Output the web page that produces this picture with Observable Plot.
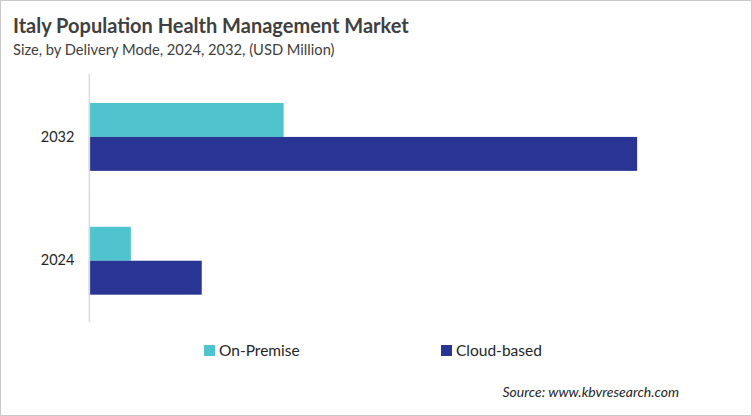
<!DOCTYPE html>
<html>
<head>
<meta charset="utf-8">
<script src="https://cdn.jsdelivr.net/npm/d3@7"></script>
<script src="https://cdn.jsdelivr.net/npm/@observablehq/plot@0.6"></script>
<style>
  html, body { margin: 0; padding: 0; background: #fff; }
  #wrap { position: relative; width: 750px; height: 414px; border: 1px solid #c8c8c8; font-family: Lato, "Open Sans", sans-serif; color: #404040; overflow: hidden; }
  #title { position: absolute; left: 12px; top: 12px; font-size: 20px; font-weight: 700; color: #404040; white-space: nowrap; }
  #subtitle { position: absolute; left: 12px; top: 39px; font-size: 14.7px; color: #404040; white-space: nowrap; }
  #chart { position: absolute; left: -1px; top: 69px; }
  .leg { position: absolute; top: 340px; font-size: 15.5px; color: #262626; white-space: nowrap; display: flex; align-items: center; }
  .sw { width: 11px; height: 11px; display: inline-block; margin-right: 4px; }
  #source { position: absolute; right: 72px; top: 382px; font-size: 14px; font-style: italic; color: #262626; white-space: nowrap; }
</style>
</head>
<body>
<div id="wrap">
  <div id="title">Italy Population Health Management Market</div>
  <div id="subtitle">Size, by Delivery Mode, 2024, 2032, (USD Million)</div>
  <div id="chart"></div>
  <div id="legend"></div>
  <div id="source">Source: www.kbvresearch.com</div>
</div>
<script>
const years = ["2032", "2024"];
const modes = ["On-Premise", "Cloud-based"];
const colors = ["#4FC3CE", "#283593"];
const onPremise = [78.0, 16.8];   // 2032, 2024
const cloudBased = [219.6, 45.2]; // 2032, 2024

const data = [];
years.forEach((yr, i) => {
  data.push({year: yr, mode: modes[0], value: onPremise[i]});
  data.push({year: yr, mode: modes[1], value: cloudBased[i]});
});

const chart = Plot.plot({
  width: 752,
  height: 252,
  marginLeft: 89,
  marginRight: 114,
  marginTop: 6,
  marginBottom: 0,
  x: {domain: [0, d3.max(cloudBased)], axis: null},
  y: {domain: modes, padding: 0, axis: null},
  fy: {domain: years, paddingInner: 0.44, paddingOuter: 0.208, label: null, axis: null},
  color: {domain: modes, range: colors},
  marks: [
    Plot.barX(data, {fy: "year", y: "mode", x: "value", fill: "mode"}),
    Plot.ruleX(years.map(yr => ({year: yr})), {fy: "year", x: () => 0, stroke: "#d9d9d9", strokeWidth: 1.5, insetTop: -28, insetBottom: -28}),
    Plot.axisFy({anchor: "left", tickSize: 0, tickPadding: 15, fontSize: 14.5, label: null, color: "#262626"})
  ],
  style: {fontFamily: "Lato, 'Open Sans', sans-serif", color: "#262626", background: "transparent"}
});
document.getElementById("chart").appendChild(chart);

const lefts = [203, 440];
const legend = document.getElementById("legend");
modes.forEach((m, i) => {
  const d = document.createElement("div");
  d.className = "leg";
  d.style.left = lefts[i] + "px";
  d.innerHTML = `<span class="sw" style="background:${colors[i]}"></span>${m}`;
  legend.appendChild(d);
});
</script>
</body>
</html>
